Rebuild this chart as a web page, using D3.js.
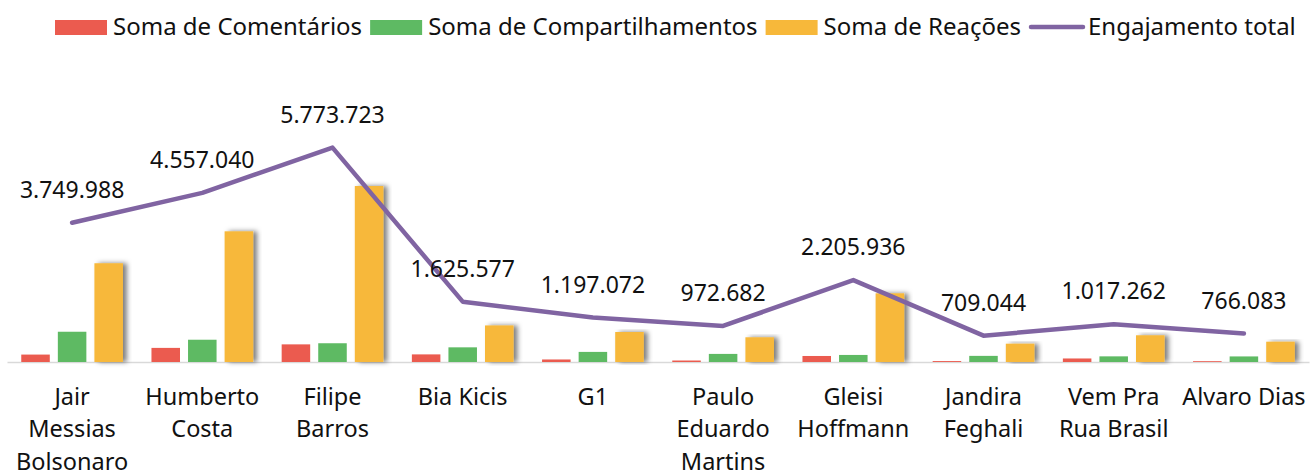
<!DOCTYPE html>
<html>
<head>
<meta charset="utf-8">
<script src="https://cdn.jsdelivr.net/npm/d3@7"></script>
<style>
    body { margin: 0; background: #fff; }
    text { font-family: "Noto Sans", sans-serif; fill: #111; }
</style>
</head>
<body>
<svg id="engajamento" width="1314" height="472"></svg>
<script>

// data
let categories = ["Jair Messias Bolsonaro", "Humberto Costa", "Filipe Barros", "Bia Kicis", "G1",
                  "Paulo Eduardo Martins", "Gleisi Hoffmann", "Jandira Feghali", "Vem Pra Rua Brasil", "Alvaro Dias"];
let categoryLines = [["Jair", "Messias", "Bolsonaro"], ["Humberto", "Costa"], ["Filipe", "Barros"], ["Bia Kicis"], ["G1"],
                     ["Paulo", "Eduardo", "Martins"], ["Gleisi", "Hoffmann"], ["Jandira", "Feghali"], ["Vem Pra", "Rua Brasil"], ["Alvaro Dias"]];
let comentarios     = [200000, 380000, 475000, 205000, 68000, 40000, 162000, 25000, 95000, 22000];
let compartilhamentos = [815000, 600000, 505000, 395000, 272000, 218000, 190000, 165000, 152000, 150000];
let reacoes         = [2660000, 3520000, 4740000, 985000, 808000, 666000, 1850000, 493000, 720000, 547000];
let engajamento     = [3749988, 4557040, 5773723, 1625577, 1197072, 972682, 2205936, 709044, 1017262, 766083];
let seriesNames = ["Soma de Comentários", "Soma de Compartilhamentos", "Soma de Reações"];
let lineName = "Engajamento total";

let svg = d3.select("#engajamento");

let color = d3.scaleOrdinal()
    .domain(seriesNames)
    .range(["#EB5B4F", // comentarios
            "#5EBA63", // compartilhamentos
            "#F7B83A"  // reacoes
        ]);
let lineColor = "#8064A2";

let data = categories.map(function(c, i) {
    return {cat: c, values: [comentarios[i], compartilhamentos[i], reacoes[i]], total: engajamento[i]};
});

let x0 = d3.scaleBand()
    .domain(categories)
    .range([7, 1309])
    .padding(0);

let x1 = d3.scaleBand()
    .domain(seriesNames)
    .range([0, x0.bandwidth()])
    .paddingInner(0.22)
    .paddingOuter(0.39);

let y = d3.scaleLinear()
    .domain([0, 8000000])
    .range([362, 65]);

// shadow for the reactions bars
let defs = svg.append("defs");
defs.append("filter")
    .attr("id", "shadow")
    .attr("x", "-30%").attr("y", "-10%")
    .attr("width", "160%").attr("height", "120%")
    .append("feDropShadow")
    .attr("dx", 4)
    .attr("dy", 0)
    .attr("stdDeviation", 2.4)
    .attr("flood-color", "#000")
    .attr("flood-opacity", 0.5);

// x axis
let xAxis = svg.append("g")
    .attr("transform", "translate(0, 362)")
    .call(d3.axisBottom(x0).tickSize(0).tickSizeOuter(0).tickFormat(""));

xAxis.select(".domain")
    .attr("stroke", "#D9D9D9")
    .attr("stroke-width", 1.6);

// bars
let groups = svg.selectAll("g.grupo")
    .data(data)
    .join("g")
    .attr("class", "grupo")
    .attr("transform", function(d) { return `translate(${x0(d.cat)}, 0)`; });

groups.selectAll("rect")
    .data(function(d) { return d.values.map(function(v, j) { return {key: seriesNames[j], value: v}; }); })
    .join("rect")
    .attr("x", function(d) { return x1(d.key); })
    .attr("y", function(d) { return y(d.value); })
    .attr("width", x1.bandwidth())
    .attr("height", function(d) { return y(0) - y(d.value); })
    .attr("fill", function(d) { return color(d.key); })
    .attr("filter", function(d) { return d.key === "Soma de Reações" ? "url(#shadow)" : null; });

// total line
let line = d3.line()
    .x(function(d) { return x0(d.cat) + x0.bandwidth() / 2; })
    .y(function(d) { return y(d.total); });

svg.append("path")
    .datum(data)
    .attr("fill", "none")
    .attr("stroke", lineColor)
    .attr("stroke-width", 4.5)
    .attr("stroke-linejoin", "round")
    .attr("stroke-linecap", "round")
    .attr("d", line);

// data labels
let fmt = d3.formatLocale({decimal: ",", thousands: ".", grouping: [3], currency: ["R$", ""]}).format(",d");

svg.selectAll("text.rotulo")
    .data(data)
    .join("text")
    .attr("class", "rotulo")
    .attr("x", function(d) { return x0(d.cat) + x0.bandwidth() / 2; })
    .attr("y", function(d) { return y(d.total) - 25; })
    .attr("text-anchor", "middle")
    .style("font-size", "23px")
    .text(function(d) { return fmt(d.total); });

// category labels (wrapped)
svg.selectAll("text.categoria")
    .data(data)
    .join("text")
    .attr("class", "categoria")
    .attr("text-anchor", "middle")
    .style("font-size", "23.5px")
    .each(function(d, i) {
        let t = d3.select(this);
        categoryLines[i].forEach(function(l, k) {
            t.append("tspan")
                .attr("x", x0(d.cat) + x0.bandwidth() / 2)
                .attr("y", 405 + k * 32.3)
                .text(l);
        });
    });

// legend
let legend = svg.append("g");
let lx = 55;
seriesNames.concat([lineName]).forEach(function(name, i) {
    let tx = lx + 58;
    if (i < 3) {
        legend.append("rect")
            .attr("x", lx)
            .attr("y", 20)
            .attr("width", 52)
            .attr("height", 15)
            .attr("fill", color(name));
    } else {
        legend.append("line")
            .attr("x1", lx + 2)
            .attr("x2", lx + 54)
            .attr("y1", 27)
            .attr("y2", 27)
            .attr("stroke", lineColor)
            .attr("stroke-width", 4.5)
            .attr("stroke-linecap", "round");
        tx = lx + 59;
    }
    let t = legend.append("text")
        .attr("x", tx)
        .attr("y", 34.5)
        .style("font-size", "24px")
        .text(name);
    lx = tx + t.node().getComputedTextLength() + 8;
});

</script>
</body>
</html>
